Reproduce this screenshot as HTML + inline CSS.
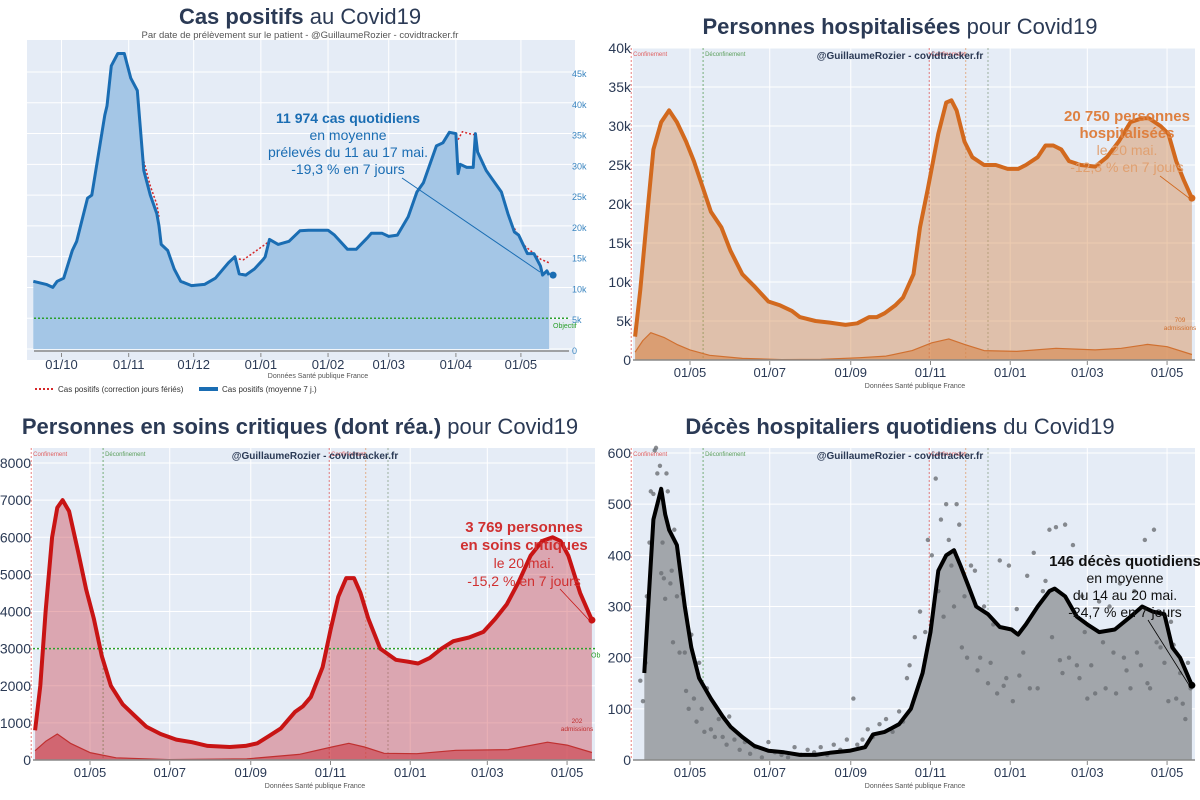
<!DOCTYPE html>
<html><head><meta charset="utf-8"><style>
body{margin:0;background:#fff;}
svg{display:block;font-family:"Liberation Sans",sans-serif;}
</style></head><body>
<svg id="root" width="1200" height="800" viewBox="0 0 1200 800">
<!-- backgrounds -->
<rect x="27" y="40" width="548" height="320" fill="#e5ecf6"/>
<rect x="633" y="48" width="562" height="312" fill="#e5ecf6"/>
<rect x="33" y="448" width="562" height="312" fill="#e5ecf6"/>
<rect x="633" y="448" width="562" height="312" fill="#e5ecf6"/>
<g id="layer"></g>
<!-- titles -->
<text x="300" y="24" text-anchor="middle" font-size="22" fill="#2b3a55"><tspan font-weight="bold">Cas positifs</tspan> au Covid19</text>
<text x="300" y="38" text-anchor="middle" font-size="9.5" fill="#555">Par date de prélèvement sur le patient - @GuillaumeRozier - covidtracker.fr</text>
<text x="900" y="34" text-anchor="middle" font-size="22" fill="#2b3a55"><tspan font-weight="bold">Personnes hospitalisées</tspan> pour Covid19</text>
<text x="300" y="434" text-anchor="middle" font-size="22" fill="#2b3a55"><tspan font-weight="bold">Personnes en soins critiques (dont réa.)</tspan> pour Covid19</text>
<text x="900" y="434" text-anchor="middle" font-size="22" fill="#2b3a55"><tspan font-weight="bold">Décès hospitaliers quotidiens</tspan> du Covid19</text>
<text x="900" y="59" text-anchor="middle" font-size="10" font-weight="bold" fill="#2b3a55">@GuillaumeRozier - covidtracker.fr</text>
<text x="315" y="459" text-anchor="middle" font-size="10" font-weight="bold" fill="#2b3a55">@GuillaumeRozier - covidtracker.fr</text>
<text x="900" y="459" text-anchor="middle" font-size="10" font-weight="bold" fill="#2b3a55">@GuillaumeRozier - covidtracker.fr</text>
<text x="318" y="378" text-anchor="middle" font-size="7" fill="#555">Données Santé publique France</text>
<text x="915" y="388" text-anchor="middle" font-size="7" fill="#555">Données Santé publique France</text>
<text x="315" y="788" text-anchor="middle" font-size="7" fill="#555">Données Santé publique France</text>
<text x="915" y="788" text-anchor="middle" font-size="7" fill="#555">Données Santé publique France</text>
<!-- legend -->
<g>
<line x1="35" y1="389" x2="53" y2="389" stroke="#d62728" stroke-width="2" stroke-dasharray="2,2"/>
<text x="58" y="392" font-size="8" fill="#333">Cas positifs (correction jours fériés)</text>
<line x1="199" y1="389" x2="218" y2="389" stroke="#1a6db3" stroke-width="4"/>
<text x="222" y="392" font-size="8" fill="#333">Cas positifs (moyenne 7 j.)</text>
</g>
<!-- annotations -->
<g text-anchor="middle" font-size="14" fill="#1a6db3">
<text x="348" y="123" font-weight="bold">11 974 cas quotidiens</text>
<text x="348" y="140">en moyenne</text>
<text x="348" y="157">prélevés du 11 au 17 mai.</text>
<text x="348" y="174">-19,3 % en 7 jours</text>
</g>
<line x1="402" y1="178" x2="540" y2="272" stroke="#1a6db3" stroke-width="1"/>
<g text-anchor="middle" font-size="14" fill="#de8040">
<text x="1127" y="121" font-weight="bold" font-size="15">20 750 personnes</text>
<text x="1127" y="138" font-weight="bold" font-size="15">hospitalisées</text>
<text x="1127" y="155" fill="#e0a070">le 20 mai.</text>
<text x="1127" y="172" fill="#e0a070">-12,3 % en 7 jours</text>
</g>
<g text-anchor="middle" font-size="14" fill="#d03030">
<text x="524" y="532" font-weight="bold" font-size="15">3 769 personnes</text>
<text x="524" y="550" font-weight="bold" font-size="15">en soins critiques</text>
<text x="524" y="568">le 20 mai.</text>
<text x="524" y="586">-15,2 % en 7 jours</text>
</g>
<g text-anchor="middle" font-size="14" fill="#111">
<text x="1125" y="566" font-weight="bold" font-size="15">146 décès quotidiens</text>
<text x="1125" y="583">en moyenne</text>
<text x="1125" y="600">du 14 au 20 mai.</text>
<text x="1125" y="617">-24,7 % en 7 jours</text>
</g>
</svg>
<script>
// ---------- data ----------
// Panel 1: days since 2020-10-01
const casesDays = [-13,-7,-4,-2,1,5,7,12,14,20,21,23,26,29,32,35,38,41,44,45,46,49,52,55,60,66,71,77,80,82,85,89,93,94,96,100,105,110,114,123,126,132,136,141,143,148,151,155,160,164,167,173,176,179,182,183,184,187,190,191,192,196,199,203,206,209,211,215,218,221,222,224,225];
const casesValues = [11000,10500,10000,11000,11500,16000,17500,24500,25000,38000,39500,46000,48000,48000,44000,42000,29000,25000,22000,20000,17000,16000,13000,11000,10300,10500,11500,14000,15000,12200,12000,13000,14500,15000,17800,17000,17500,19200,19300,19300,18500,16200,16200,18000,18800,18800,18300,18500,21500,25500,27000,33000,33500,35200,35000,28500,30000,29500,29500,35000,32000,29000,27500,25500,22000,19000,18500,15500,15500,13500,12000,12700,12000];
const corrA_days = [38,41,44,45];        const corrA_vals = [30500,26500,23500,21500];
const corrB_days = [80,84,88,92,96];     const corrB_vals = [14700,14500,15500,16500,17500];
const corrC_days = [183,185,188,191];    const corrC_vals = [34000,35300,35000,34800];
const corrD_days = [209,213,217,221,225];const corrD_vals = [19600,17000,15800,14600,14000];
const casesTickDays = [0,31,61,92,123,151,182,212];
const casesTickLabels = ['01/10','01/11','01/12','01/01','01/02','01/03','01/04','01/05'];
const casesYTicks = [0,5000,10000,15000,20000,25000,30000,35000,40000,45000];
const casesYLabels = ['0','5k','10k','15k','20k','25k','30k','35k','40k','45k'];
const casesObjective = 5000;

// Panels 2-4: days since 2020-05-01
const dateTickDays = [0,61,123,184,245,304,365];
const dateTickLabels = ['01/05','01/07','01/09','01/11','01/01','01/03','01/05'];
const eventDays = [-45,10,183,211,228];
const eventLabels = ['Confinement','Déconfinement','Confinement','',''];

const hospDays = [-42,-38,-32,-28,-22,-16,-10,-3,3,10,16,24,31,40,49,60,69,78,84,96,107,119,128,137,143,149,157,163,171,176,182,190,196,200,204,210,216,225,234,243,251,257,266,272,278,284,290,299,310,319,328,337,346,351,360,366,372,378,384];
const hospValues = [3000,9000,20000,27000,30500,32000,30500,28000,25500,22000,19000,17000,14000,11000,9500,7500,7000,6300,5500,5000,4800,4500,4700,5500,5500,6000,7000,8000,11000,17000,22000,29000,33000,33300,32000,28000,26000,25000,25000,24500,24500,25000,26000,27500,27500,27000,25500,25000,24800,26000,28000,30500,31000,31000,30000,29000,25500,23000,20750];
const hospAdmDays = [-42,-36,-30,-20,-10,0,15,40,70,100,130,150,170,185,198,210,225,250,280,310,330,350,365,384];
const hospAdmValues = [1000,2500,3500,2900,2000,1300,600,200,50,80,300,500,1200,2200,2700,2000,1200,1100,1500,1300,1500,2000,1700,700];
const hospYTicks = [0,5000,10000,15000,20000,25000,30000,35000,40000];
const hospYLabels = ['0','5k','10k','15k','20k','25k','30k','35k','40k'];

const icuDays = [-42,-38,-34,-29,-25,-21,-16,-9,-3,3,9,16,25,34,43,54,66,78,90,107,119,128,137,146,157,163,169,178,184,190,196,202,207,213,222,234,243,251,260,269,278,290,301,310,319,328,337,346,354,360,366,375,384];
const icuValues = [800,2000,4000,6000,6800,7000,6700,5600,4600,3800,2800,2000,1500,1200,900,700,550,480,380,350,380,450,650,850,1300,1450,1700,2500,3500,4400,4900,4900,4500,3800,3000,2700,2650,2600,2750,3000,3200,3300,3450,3800,4200,4800,5500,5900,6000,5900,5500,4500,3769];
const icuAdmDays = [-42,-34,-25,-15,0,20,60,120,160,185,198,210,225,250,280,320,350,365,384];
const icuAdmValues = [250,500,700,450,200,60,10,30,150,350,450,350,180,170,260,280,480,400,202];
const icuYTicks = [0,1000,2000,3000,4000,5000,6000,7000,8000];
const icuObjective = 3000;

const deathDays = [-35,-32,-28,-25,-22,-19,-16,-10,-4,1,7,16,25,31,40,49,60,72,84,96,107,122,134,140,149,160,169,178,184,190,196,202,207,213,219,228,237,246,251,257,266,275,279,287,296,304,313,325,337,346,354,363,369,375,384];
const deathValues = [170,300,470,500,530,480,450,420,300,220,160,120,85,65,45,28,18,15,10,10,14,18,25,50,55,70,100,170,250,370,400,410,380,340,300,285,260,255,245,265,300,330,335,320,280,265,250,255,280,300,290,285,220,200,146];
const dotDays = [-38,-36,-34,-33,-31,-30,-28,-27,-26,-25,-23,-22,-21,-20,-19,-18,-17,-15,-14,-13,-12,-10,-8,-6,-4,-3,-1,1,3,5,7,9,11,13,16,19,22,25,28,30,34,38,42,46,50,55,60,65,70,75,80,85,90,95,100,105,110,115,120,125,128,132,136,140,145,150,155,160,163,166,168,172,176,180,182,185,188,190,192,194,196,198,200,202,204,206,208,210,212,215,218,220,222,225,228,230,232,235,237,240,242,244,247,250,252,255,258,260,263,266,270,272,275,277,280,283,285,287,290,293,296,298,300,302,304,307,310,313,316,318,321,324,326,329,332,334,337,340,342,345,348,350,352,355,357,360,363,366,368,370,372,375,377,379,381,383];
const dotValues = [155,115,190,320,425,525,520,605,610,560,575,365,425,355,315,560,525,345,370,230,450,320,210,325,210,135,100,245,120,75,190,100,55,140,60,45,80,45,30,85,40,20,35,12,25,5,35,15,10,5,25,10,20,15,25,10,30,20,40,120,30,40,60,45,70,80,55,95,75,160,185,240,290,250,430,400,550,330,470,280,500,430,380,300,500,460,220,320,200,380,370,175,200,300,150,190,265,130,390,145,160,380,115,295,165,210,360,140,405,140,330,350,450,240,455,195,170,460,200,420,185,160,320,250,120,185,130,310,230,140,300,210,130,345,200,175,140,330,210,185,430,150,140,450,230,220,190,115,270,225,120,170,110,80,190,140];
const deathYTicks = [0,100,200,300,400,500,600];

// ---------- drawing ----------
const NS = 'http://www.w3.org/2000/svg';
const layer = document.getElementById('layer');
function mk(tag, attrs, parent){
  const el = document.createElementNS(NS, tag);
  for (const k in attrs) el.setAttribute(k, attrs[k]);
  (parent || layer).appendChild(el);
  return el;
}
function pts(days, vals, X, Y){ return days.map((d,i)=>X(d).toFixed(1)+','+Y(vals[i]).toFixed(1)).join(' '); }

// axis functions
const X1 = d => 61.5 + d*2.167,  Y1 = v => 349 - v*277/45000;
const X2 = d => 690 + d*1.307,   Y2 = v => 360 - v*312/40000;
const X3 = d => 90 + d*1.307,    Y3 = v => 760 - v*297/8000;
const X4 = d => 690 + d*1.307,   Y4 = v => 760 - v*307/600;

function gridY(ticks, Y, x1, x2, name){
  ticks.forEach(t=>{
    const g = mk('line',{x1:x1,x2:x2,y1:Y(t),y2:Y(t),stroke:'#fff','stroke-width':1});
    
    
  });
}
function gridX(days, X, y1, y2, name){
  days.forEach(d=>{
    const g = mk('line',{x1:X(d),x2:X(d),y1:y1,y2:y2,stroke:'#fff','stroke-width':1});
    
    
  });
}
function xLabels(days, labels, X, y, name){
  days.forEach((d,i)=>{
    const t = mk('text',{x:X(d),y:y,'text-anchor':'middle','font-size':13,fill:'#2b3a55'});
    t.textContent = labels[i];
    
    
    const tk = mk('line',{x1:X(d),x2:X(d),y1:y-16,y2:y-12,stroke:'#888'});
    
    
  });
}
function yLabels(ticks, labels, Y, x, anchor, size, color, name){
  ticks.forEach((t,i)=>{
    const e = mk('text',{x:x,y:Y(t)+5,'text-anchor':anchor,'font-size':size,fill:color});
    e.textContent = labels[i];
    
    
  });
}
function area(days, vals, X, Y, base, fill, name){
  const p = pts(days, vals, X, Y) + ' ' + X(days[days.length-1]).toFixed(1)+','+base+' '+X(days[0]).toFixed(1)+','+base;
  const a = mk('polygon',{points:p, fill:fill});
  
  
}
function line(days, vals, X, Y, stroke, w, name, dash){
  const l = mk('polyline',{points:pts(days, vals, X, Y), fill:'none', stroke:stroke,'stroke-width':w,'stroke-linejoin':'round'});
  if (dash) l.setAttribute('stroke-dasharray', dash);
  
  
}
function dot(x, y, r, fill, name){
  const c = mk('circle',{cx:x,cy:y,r:r,fill:fill});
  
  
}
function events(X, y1, y2, name){
  const cols = ['#e06060','#5a9e5a','#e06060','#e0a070','#8aa08a'];
  eventDays.forEach((d,i)=>{
    const l = mk('line',{x1:X(d),x2:X(d),y1:y1,y2:y2,stroke:cols[i],'stroke-width':0.8,'stroke-dasharray':'2,2'});
    
    
    if (eventLabels[i]) {
      const t = mk('text',{x:X(d)+2,y:y1+8,'font-size':6,fill:cols[i]});
      t.textContent = eventLabels[i];
      
      
    }
  });
}

// ---- Panel 1 ----
gridY(casesYTicks, Y1, 27, 575, 'cases-gridline-y');
gridX(casesTickDays, X1, 40, 349, 'cases-gridline-x');
area(casesDays, casesValues, X1, Y1, 349, '#a4c6e6', 'cases-area');
line(corrA_days, corrA_vals, X1, Y1, '#d62728', 1.5, 'cases-correction-line', '2,2');
line(corrB_days, corrB_vals, X1, Y1, '#d62728', 1.5, 'cases-correction-line', '2,2');
line(corrC_days, corrC_vals, X1, Y1, '#d62728', 1.5, 'cases-correction-line', '2,2');
line(corrD_days, corrD_vals, X1, Y1, '#d62728', 1.5, 'cases-correction-line', '2,2');
line(casesDays, casesValues, X1, Y1, '#1a6db3', 3, 'cases-line');
dot(X1(casesDays[casesDays.length-1])+4, Y1(casesValues[casesValues.length-1]), 3.5, '#1a6db3', 'cases-last-point');
const ob1 = mk('line',{x1:34,x2:568,y1:Y1(casesObjective),y2:Y1(casesObjective),stroke:'#2ca02c','stroke-width':1.5,'stroke-dasharray':'2,2'});


const ob1t = mk('text',{x:553,y:Y1(casesObjective)+10,'font-size':7,fill:'#2ca02c'});
ob1t.textContent = 'Objectif';


const ax1 = mk('line',{x1:34,x2:569,y1:351,y2:351,stroke:'#888','stroke-width':1.5});


xLabels(casesTickDays, casesTickLabels, X1, 369, 'cases-x-label');
yLabels(casesYTicks, casesYLabels, Y1, 572, 'start', 9, '#3a85c0', 'cases-y-label');

// ---- Panel 2 ----
gridY(hospYTicks, Y2, 633, 1195, 'hosp-gridline-y');
gridX(dateTickDays, X2, 48, 360, 'hosp-gridline-x');
events(X2, 48, 360, 'hosp-event-line');
area(hospDays, hospValues, X2, Y2, 360, 'rgba(214,140,80,0.45)', 'hosp-area');
area(hospAdmDays, hospAdmValues, X2, Y2, 360, 'rgba(214,130,70,0.55)', 'hosp-admissions-area');
line(hospAdmDays, hospAdmValues, X2, Y2, '#d07030', 1.2, 'hosp-admissions-line');
line(hospDays, hospValues, X2, Y2, '#d2691e', 4, 'hosp-line');
dot(X2(hospDays[hospDays.length-1]), Y2(hospValues[hospValues.length-1]), 3.5, '#d2691e', 'hosp-last-point');
const ax2 = mk('line',{x1:633,x2:1195,y1:360,y2:360,stroke:'#888','stroke-width':1.5});


xLabels(dateTickDays, dateTickLabels, X2, 377, 'hosp-x-label');
yLabels(hospYTicks, hospYLabels, Y2, 631, 'end', 14, '#2b3a55', 'hosp-y-label');
const adm2 = mk('text',{x:1180,y:322,'text-anchor':'middle','font-size':6.5,fill:'#d07030'});
adm2.textContent = '709';


const adm2b = mk('text',{x:1180,y:330,'text-anchor':'middle','font-size':6.5,fill:'#d07030'});
adm2b.textContent = 'admissions';



// ---- Panel 3 ----
gridY(icuYTicks, Y3, 33, 595, 'icu-gridline-y');
gridX(dateTickDays, X3, 448, 760, 'icu-gridline-x');
events(X3, 448, 760, 'icu-event-line');
area(icuDays, icuValues, X3, Y3, 760, 'rgba(205,70,80,0.42)', 'icu-area');
area(icuAdmDays, icuAdmValues, X3, Y3, 760, 'rgba(200,50,60,0.55)', 'icu-admissions-area');
line(icuAdmDays, icuAdmValues, X3, Y3, '#c03030', 1.2, 'icu-admissions-line');
const ob3 = mk('line',{x1:33,x2:595,y1:Y3(icuObjective),y2:Y3(icuObjective),stroke:'#2ca02c','stroke-width':1.5,'stroke-dasharray':'2,2'});


const ob3t = mk('text',{x:591,y:Y3(icuObjective)+9,'font-size':7,fill:'#2ca02c'});
ob3t.textContent = 'Ob';


line(icuDays, icuValues, X3, Y3, '#c81414', 4, 'icu-line');
dot(X3(icuDays[icuDays.length-1]), Y3(icuValues[icuValues.length-1]), 3.5, '#c81414', 'icu-last-point');
const ax3 = mk('line',{x1:33,x2:595,y1:760,y2:760,stroke:'#888','stroke-width':1.5});


xLabels(dateTickDays, dateTickLabels, X3, 777, 'icu-x-label');
yLabels(icuYTicks, icuYTicks.map(String), Y3, 31, 'end', 14, '#2b3a55', 'icu-y-label');
const adm3 = mk('text',{x:577,y:723,'text-anchor':'middle','font-size':6.5,fill:'#c03030'});
adm3.textContent = '202';


const adm3b = mk('text',{x:577,y:731,'text-anchor':'middle','font-size':6.5,fill:'#c03030'});
adm3b.textContent = 'admissions';



// ---- Panel 4 ----
gridY(deathYTicks, Y4, 633, 1195, 'deaths-gridline-y');
gridX(dateTickDays, X4, 448, 760, 'deaths-gridline-x');
events(X4, 448, 760, 'deaths-event-line');
area(deathDays, deathValues, X4, Y4, 760, '#a2a6ab', 'deaths-area');
dotDays.forEach((d,i)=>{
  const c = mk('circle',{cx:X4(d),cy:Y4(dotValues[i]),r:2.2,fill:'#6b6f74',opacity:0.8});
  
  
});
line(deathDays, deathValues, X4, Y4, '#000', 4, 'deaths-line');
const arr4 = mk('line',{x1:1148,y1:620,x2:1189,y2:685,stroke:'#000','stroke-width':0.8});


const arr2 = mk('line',{x1:1160,y1:176,x2:1189,y2:198,stroke:'#d2691e','stroke-width':0.8});


const arr3 = mk('line',{x1:560,y1:589,x2:589,y2:620,stroke:'#c81414','stroke-width':0.8});


dot(X4(deathDays[deathDays.length-1]), Y4(deathValues[deathValues.length-1]), 3.5, '#000', 'deaths-last-point');
const ax4 = mk('line',{x1:633,x2:1195,y1:760,y2:760,stroke:'#888','stroke-width':1.5});


xLabels(dateTickDays, dateTickLabels, X4, 777, 'deaths-x-label');
yLabels(deathYTicks, deathYTicks.map(String), Y4, 631, 'end', 14, '#2b3a55', 'deaths-y-label');
</script>
</body></html>
